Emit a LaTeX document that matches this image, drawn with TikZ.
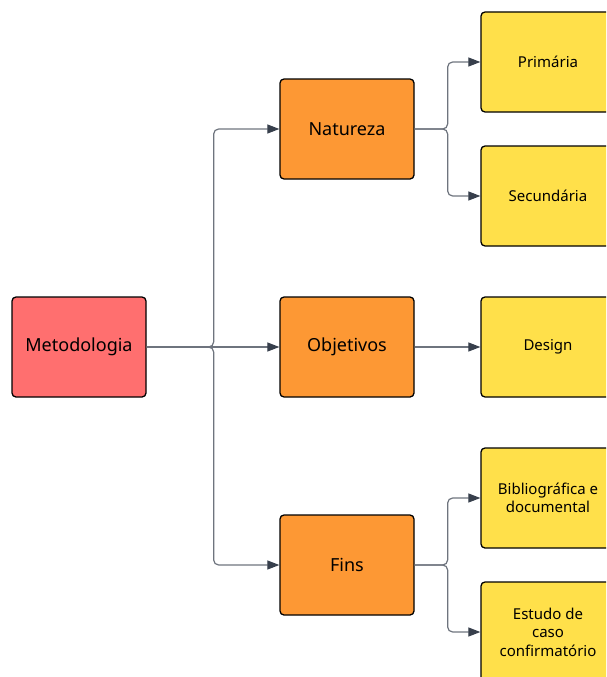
\documentclass[tikz,border=0pt]{standalone}
\usepackage{fontspec}
\setmainfont{Noto Sans}
\usepackage{tikz}
\usetikzlibrary{arrows.meta,positioning,calc}
\definecolor{rootRed}{RGB}{255,111,111}
\definecolor{midOrange}{RGB}{253,152,52}
\definecolor{leafYellow}{RGB}{255,224,74}
\definecolor{linkGray}{RGB}{110,116,126}
\definecolor{tipGray}{RGB}{55,63,76}

\begin{document}
\begin{tikzpicture}[x=1pt, y=1pt,
    box/.style={draw=black, line width=1.3pt, rounded corners=4pt,
                minimum width=134pt, minimum height=100pt, align=center},
    rootbox/.style={box, fill=rootRed, font=\fontsize{18}{21}\selectfont},
    midbox/.style={box, fill=midOrange, font=\fontsize{18}{21}\selectfont},
    leafbox/.style={box, fill=leafYellow, font=\fontsize{15}{18.5}\selectfont},
    link/.style={draw=linkGray, line width=1.2pt, rounded corners=5pt,
                 -{Triangle[length=12pt, width=9pt, color=tipGray]}}]
        \useasboundingbox (0,0) rectangle (606,-677);
        \clip (0,0) rectangle (606,-677);

        % root
        \node[rootbox] (meto) at (79,-347) {Metodologia};

        % second level
        \node[midbox] (natureza) at (347,-129) {Natureza};
        \node[midbox] (objetivos) at (347,-347) {Objetivos};
        \node[midbox] (fins) at (347,-565) {Fins};

        % leaves
        \node[leafbox] (primaria) at (548,-62) {Primária};
        \node[leafbox] (secundaria) at (548,-196) {Secundária};
        \node[leafbox] (design) at (548,-347) {Design};
        \node[leafbox] (biblio) at (548,-498) {Bibliográfica e\\documental};
        \node[leafbox] (estudo) at (548,-632) {Estudo de\\caso\\confirmatório};

        % connectors
        \draw[link] (meto.east) -- ++(67,0) |- (natureza.west);
        \draw[link] (meto.east) -- (objetivos.west);
        \draw[link] (meto.east) -- ++(67,0) |- (fins.west);

        \draw[link] (natureza.east) -- ++(33,0) |- (primaria.west);
        \draw[link] (natureza.east) -- ++(33,0) |- (secundaria.west);
        \draw[link] (objetivos.east) -- (design.west);
        \draw[link] (fins.east) -- ++(33,0) |- (biblio.west);
        \draw[link] (fins.east) -- ++(33,0) |- (estudo.west);
      \end{tikzpicture}
\end{document}
